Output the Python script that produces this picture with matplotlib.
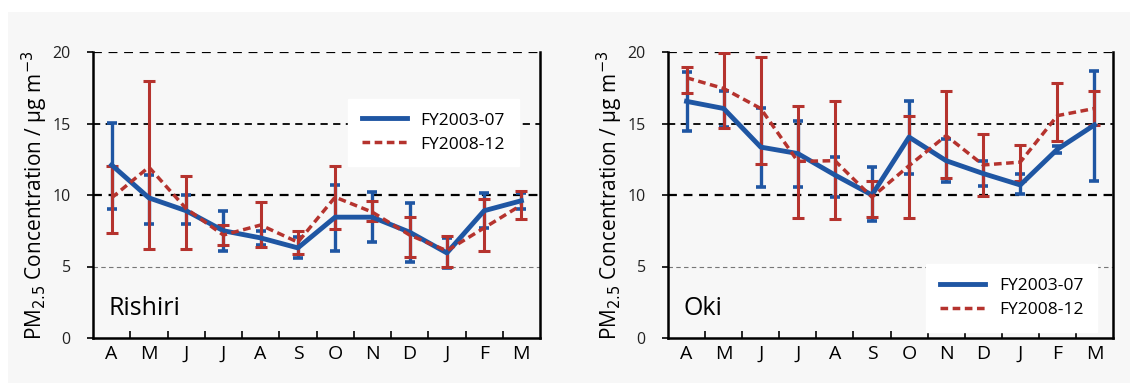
import numpy as np
import matplotlib.pyplot as plt
import matplotlib.patches as mpatches

months = ["A", "M", "J", "J", "A", "S", "O", "N", "D", "J", "F", "M"]
series_labels = ["FY2003-07", "FY2008-12"]

# Rishiri
rishiri_0307 = [12.1, 9.8, 8.9, 7.5, 7.0, 6.3, 8.45, 8.45, 7.4, 5.95, 8.9, 9.6]
rishiri_0307_hi = [15.05, 11.4, 10.0, 8.9, 7.5, 7.05, 10.7, 10.2, 9.45, 7.0, 10.15, 10.15]
rishiri_0307_lo = [9.05, 8.0, 8.0, 6.05, 6.5, 5.6, 6.05, 6.7, 5.3, 4.9, 7.7, 9.05]
rishiri_0812 = [9.8, 11.95, 9.05, 7.2, 7.9, 6.7, 9.85, 8.8, 7.2, 6.1, 7.7, 9.3]
rishiri_0812_hi = [12.0, 17.95, 11.3, 7.9, 9.5, 7.5, 12.05, 9.55, 8.45, 7.1, 9.7, 10.3]
rishiri_0812_lo = [7.35, 6.2, 6.2, 6.5, 6.35, 5.9, 7.65, 8.2, 5.65, 5.0, 6.05, 8.35]

# Oki
oki_0307 = [16.55, 16.05, 13.35, 12.9, 11.4, 10.0, 14.05, 12.4, 11.5, 10.7, 13.2, 14.9]
oki_0307_hi = [18.6, 17.3, 16.05, 15.2, 12.65, 11.95, 16.6, 13.95, 12.35, 11.5, 13.4, 18.65]
oki_0307_lo = [14.45, 14.75, 10.55, 10.55, 9.85, 8.15, 11.5, 10.9, 10.6, 10.1, 12.95, 11.0]
oki_0812 = [18.2, 17.45, 16.05, 12.35, 12.4, 9.85, 12.05, 14.15, 12.1, 12.3, 15.55, 16.05]
oki_0812_hi = [18.95, 19.95, 19.65, 16.25, 16.6, 11.0, 15.5, 17.3, 14.3, 13.5, 17.8, 17.3]
oki_0812_lo = [17.15, 14.7, 12.2, 8.4, 8.35, 8.45, 8.4, 11.2, 9.95, 10.95, 13.8, 14.9]

blue = "#1f56a3"
red = "#b5332e"
bg = "#f7f7f7"

fig = plt.figure(figsize=(11.3, 3.83), dpi=100, facecolor="white")
fig.patches.append(mpatches.Rectangle((8 / 1130, 0), 1, 1 - 12 / 383,
                                      transform=fig.transFigure,
                                      facecolor=bg, edgecolor="none", zorder=-10))

plt.rcParams["font.family"] = ["Open Sans", "DejaVu Sans"]


def draw_panel(ax, m1, hi1, lo1, m2, hi2, lo2, station, legend_loc):
    x = np.arange(len(months))
    ax.set_facecolor(bg)
    for yv, lw, col in [(5, 0.8, "#777777"), (10, 1.6, "black"), (15, 1.3, "black"), (20, 1.6, "black")]:
        ax.axhline(yv, color=col, lw=lw, ls=(0, (4, 3)), zorder=1)

    m1 = np.array(m1)
    m2 = np.array(m2)
    err1 = [m1 - np.array(lo1), np.array(hi1) - m1]
    err2 = [m2 - np.array(lo2), np.array(hi2) - m2]
    ax.errorbar(x, m1, yerr=err1, fmt="none", ecolor=blue, elinewidth=2.4,
                capsize=3.5, capthick=2.6, zorder=3)
    ax.errorbar(x, m2, yerr=err2, fmt="none", ecolor=red, elinewidth=2.2,
                capsize=4, capthick=2.2, zorder=4)
    l1, = ax.plot(x, m1, color=blue, lw=3.5, zorder=5, solid_joinstyle="round")
    l2, = ax.plot(x, m2, color=red, lw=2.5, ls=(0, (2.2, 1.3)), zorder=6)

    ax.set_xlim(-0.5, len(months) - 0.5)
    ax.set_ylim(0, 20)
    ax.set_xticks(x)
    ax.set_xticklabels(months, fontsize=14)
    ax.set_xticks(np.arange(0.5, len(months) - 1, 1), minor=True)
    ax.tick_params(axis="x", which="major", length=0, pad=5)
    ax.tick_params(axis="x", which="minor", direction="in", length=5, width=1.2)
    ax.set_yticks([0, 5, 10, 15, 20])
    ax.tick_params(axis="y", labelsize=11.5, length=4, width=1.2, direction="out",
                   labelcolor="#222222", pad=12)
    ax.spines["top"].set_visible(False)
    for s in ["left", "bottom", "right"]:
        ax.spines[s].set_linewidth(1.8)
    ax.set_ylabel("PM$_{2.5}$ Concentration / \u00b5g m$^{-3}$", fontsize=15, labelpad=2)

    ax.text(0.035, 0.06, station, transform=ax.transAxes, fontsize=18, va="bottom")
    leg = ax.legend([l1, l2], series_labels, loc=legend_loc, fontsize=12.5,
                    frameon=True, fancybox=False, handlelength=2.6,
                    borderpad=0.8, labelspacing=0.45, handletextpad=0.8)
    leg.get_frame().set_facecolor("white")
    leg.get_frame().set_edgecolor("white")
    leg.get_frame().set_alpha(1)


ax1 = fig.add_axes([93 / 1130, 1 - 338 / 383, 447 / 1130, 286 / 383])
draw_panel(ax1, rishiri_0307, rishiri_0307_hi, rishiri_0307_lo,
           rishiri_0812, rishiri_0812_hi, rishiri_0812_lo, "Rishiri",
           (0.57, 0.6))

ax2 = fig.add_axes([668 / 1130, 1 - 338 / 383, 445 / 1130, 286 / 383])
draw_panel(ax2, oki_0307, oki_0307_hi, oki_0307_lo,
           oki_0812, oki_0812_hi, oki_0812_lo, "Oki",
           (0.58, 0.02))

fig.savefig("out.png", dpi=100, facecolor=fig.get_facecolor())
